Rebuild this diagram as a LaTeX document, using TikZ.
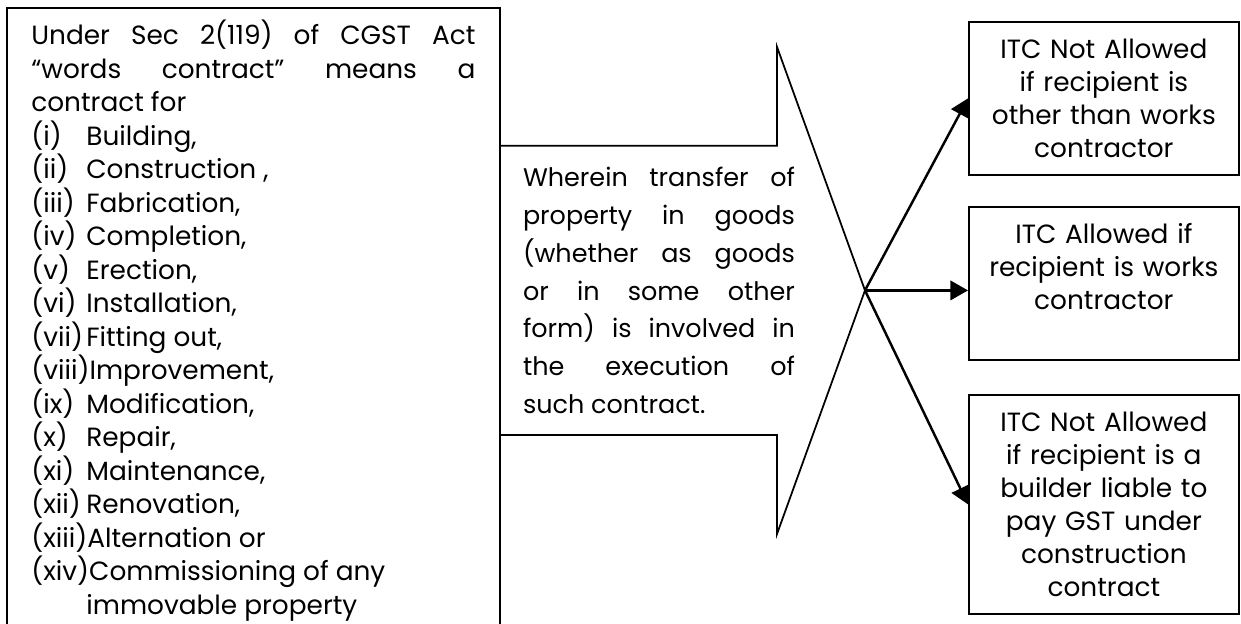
\documentclass[tikz,border=0pt]{standalone}
\usepackage{fontspec}
\setmainfont{Poppins}
\usetikzlibrary{arrows.meta,positioning,calc}
\newlength{\itmind}
\setlength{\itmind}{1.1cm}
\newcommand{\itm}[2]{\par\noindent\hangindent=\itmind\hangafter=1\setbox0=\hbox{#1}%
  \ifdim\wd0<\itmind\hbox to\itmind{#1\hfil}\else\box0\fi#2}

\begin{document}
\begin{tikzpicture}[
  >={Triangle[length=10pt,width=11pt]},
  lbox/.style={draw,line width=1pt,anchor=north west,text width=8.88cm,inner xsep=0.49cm,inner ysep=0.25cm,align=justify,font=\fontsize{15}{19.06}\selectfont},
  rbox/.style={draw,line width=1pt,anchor=north west,text width=4.9cm,inner xsep=0.25cm,align=center,minimum height=3.06cm,font=\fontsize{15}{18.8}\selectfont},
  every edge/.style={draw,->,line width=1.4pt}
]
\clip (0,0) rectangle (24.82,12.46);
\node[lbox] (defn) at (0.12,12.32) {Under Sec 2(119) of CGST Act\linebreak ``words contract'' means a\linebreak contract for
  \itm{(i)}{Building,}
  \itm{(ii)}{Construction ,}
  \itm{(iii)}{Fabrication,}
  \itm{(iv)}{Completion,}
  \itm{(v)}{Erection,}
  \itm{(vi)}{Installation,}
  \itm{(vii)}{Fitting out,}
  \itm{(viii)}{Improvement,}
  \itm{(ix)}{Modification,}
  \itm{(x)}{Repair,}
  \itm{(xi)}{Maintenance,}
  \itm{(xii)}{Renovation,}
  \itm{(xiii)}{Alternation or}
  \itm{(xiv)}{Commissioning of any\\immovable property}\par};
% big arrow out of the definition box
\coordinate (tip) at (17.3,6.652);
\draw[line width=1pt] (defn.east |- 0,9.544) -- (15.54,9.544) -- (15.54,11.522) -- (tip)
  -- (15.54,1.78) -- (15.54,3.76) -- (defn.east |- 0,3.76);
\node[font=\fontsize{14.5}{21.45}\selectfont,text width=5.44cm,align=justify] (wherein) at (13.18,6.652)
  {Wherein transfer of\linebreak property in goods\linebreak (whether as goods\linebreak or in some other\linebreak form) is involved in\linebreak the execution of\linebreak such contract.};
% outcomes
\node[rbox] (notall) at (19.36,12.04) {ITC Not Allowed\\ if recipient is\\ other than works\\ contractor};
\node[rbox] (allow) at (19.36,8.34) {ITC Allowed if\\ recipient is works\\ contractor\\ \mbox{}};
\node[rbox,minimum height=4.38cm] (builder) at (19.36,4.58) {ITC Not Allowed\\ if recipient is a\\ builder liable to\\ pay GST under\\ construction\\ contract};
\draw (tip) edge (notall.west) (tip) edge (tip -| allow.west) (tip) edge (builder.west);
\end{tikzpicture}
\end{document}
